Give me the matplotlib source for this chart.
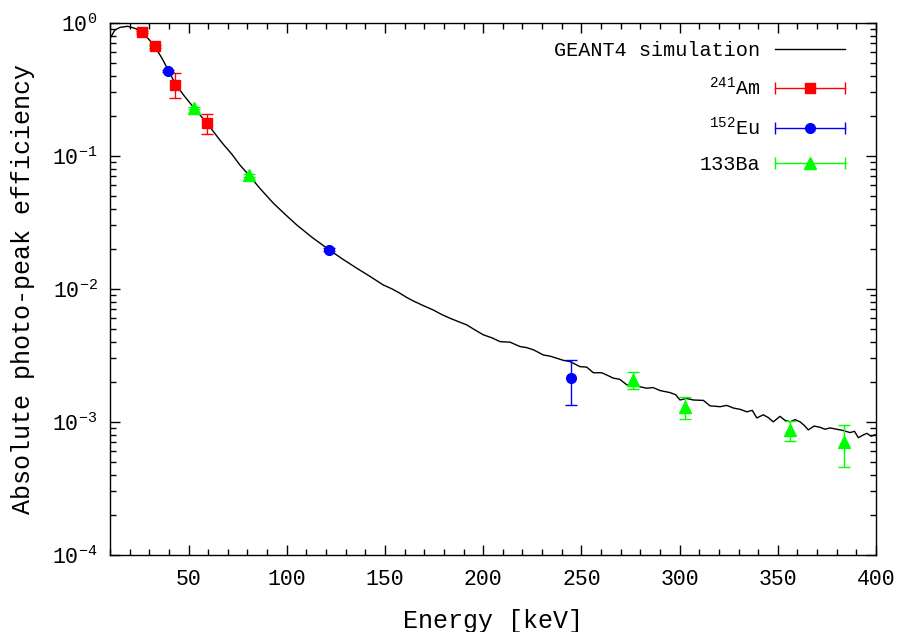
import matplotlib
matplotlib.use("Agg")
import matplotlib.pyplot as plt
from matplotlib.lines import Line2D
from matplotlib.legend_handler import HandlerLine2D, HandlerTuple
from matplotlib.ticker import MultipleLocator, LogLocator, NullFormatter

plt.rcParams['font.family'] = ['Liberation Mono', 'DejaVu Sans Mono']
plt.rcParams['mathtext.fontset'] = 'custom'
plt.rcParams['mathtext.rm'] = 'Liberation Mono'
plt.rcParams['mathtext.it'] = 'Liberation Mono'

# --- GEANT4 simulated curve ---
sim_energy = [10.5, 12.5, 15.1, 19.0, 22.7, 26.3, 29.5, 32.9, 36.5, 39.7,
              43.1, 47.8, 52.9, 59.5, 66.9, 72.0, 76.2, 80.9, 86.5, 93.2,
              99.0, 105.1, 113.0, 121.7, 128.0, 135.6, 142.0, 149.1, 153.5, 157.6,
              161.0, 164.4, 169.5, 174.6, 179.0, 183.1, 187.5, 191.6, 196.0, 200.1,
              204.5, 208.6, 213.7, 218.8, 222.0, 225.6, 230.7, 234.0, 237.4, 240.8,
              244.2, 249.3, 252.7, 256.1, 260.3, 262.9, 266.3, 269.5, 273.1, 278.1,
              283.2, 286.5, 290.0, 295.1, 298.0, 300.2, 303.5, 307.0, 312.1, 315.5,
              320.6, 324.0, 327.4, 331.0, 334.2, 337.0, 339.3, 342.6, 345.0, 347.7,
              351.1, 353.5, 356.2, 358.8, 361.3, 363.5, 365.5, 368.5, 371.5, 374.0,
              376.6, 380.0, 383.4, 386.8, 389.0, 391.0, 393.0, 395.3, 397.5, 399.5]
sim_eff = [0.785, 0.881, 0.923, 0.940, 0.908, 0.851, 0.760, 0.661, 0.540, 0.440,
           0.351, 0.282, 0.228, 0.175, 0.126, 0.103, 0.0851, 0.0711, 0.0565, 0.0440,
           0.0365, 0.0302, 0.0243, 0.0196, 0.0169, 0.0143, 0.0125, 0.0107, 0.0100, 0.00927,
           0.00862, 0.00811, 0.00748, 0.00693, 0.00640, 0.00601, 0.00566, 0.00536, 0.00489, 0.00451,
           0.00428, 0.00401, 0.00397, 0.00368, 0.00362, 0.00348, 0.00318, 0.00312, 0.00301, 0.00290,
           0.00284, 0.00260, 0.00258, 0.00234, 0.00234, 0.00225, 0.00213, 0.00209, 0.00190, 0.00186,
           0.00179, 0.00181, 0.00172, 0.00166, 0.00160, 0.00146, 0.00150, 0.00146, 0.00145, 0.00132,
           0.00130, 0.00133, 0.00127, 0.00124, 0.00119, 0.00122, 0.00107, 0.00113, 0.00108, 0.00100,
           0.00110, 0.00103, 0.00100, 0.00104, 0.00100, 0.00094, 0.00087, 0.00093, 0.00091, 0.00088,
           0.00090, 0.00088, 0.00086, 0.00083, 0.00085, 0.00076, 0.00079, 0.00082, 0.00078, 0.00080]

# --- measured points ---
am_energy = [26.3, 33.0, 43.2, 59.3]
am_eff = [0.851, 0.663, 0.343, 0.176]
am_err = [0.02, 0.02, 0.073, 0.03]

eu_energy = [39.5, 121.7, 244.7]
eu_eff = [0.435, 0.0196, 0.00213]
eu_err = [0.01, 0.0005, 0.0008]

ba_energy = [53.0, 80.9, 276.4, 302.9, 356.0, 383.8]
ba_eff = [0.228, 0.0711, 0.00208, 0.00130, 0.00087, 0.000707]
ba_err = [0.005, 0.002, 0.0003, 0.000245, 0.000148, 0.000248]

fig = plt.figure(figsize=(9.05, 6.32), dpi=100)
ax = fig.add_axes([0.1215, 0.122, 0.8465, 0.842])

ax.plot(sim_energy, sim_eff, color='black', lw=1.0, zorder=2)

ax.errorbar(am_energy, am_eff, yerr=am_err, fmt='s', color='#ff0000', ms=7,
            elinewidth=1.0, capsize=4, capthick=1.0, zorder=3)
ax.errorbar(eu_energy, eu_eff, yerr=eu_err, fmt='o', color='#0000ff', ms=7,
            elinewidth=1.0, capsize=4, capthick=1.0, zorder=3)
ax.errorbar(ba_energy, ba_eff, yerr=ba_err, fmt='^', color='#00ff00', ms=8.5,
            elinewidth=1.0, capsize=4, capthick=1.0, zorder=3)

ax.set_yscale('log')
ax.set_xlim(10, 400)
ax.set_ylim(1e-4, 1)
ax.xaxis.set_major_locator(MultipleLocator(50))
ax.xaxis.set_minor_locator(MultipleLocator(10))
ax.yaxis.set_major_locator(LogLocator(base=10, numticks=10))
ax.yaxis.set_minor_locator(LogLocator(base=10, subs=range(2, 10), numticks=20))
ax.yaxis.set_minor_formatter(NullFormatter())
ax.set_xticks([50, 100, 150, 200, 250, 300, 350, 400])

ax.tick_params(which='both', direction='in', top=True, right=True, labelsize=15.5)
ax.tick_params(which='major', length=7, width=1.0)
ax.tick_params(which='minor', length=4, width=1.0)
ax.tick_params(axis='x', pad=10)
ax.tick_params(axis='y', pad=9)
for s in ax.spines.values():
    s.set_linewidth(1.0)

ax.set_xlabel('Energy [keV]', fontsize=18, labelpad=14)
ax.set_ylabel('Absolute photo-peak efficiency', fontsize=18, labelpad=12)

# legend in gnuplot style: text on the left, horizontal error bar sample on the right
sim_h = Line2D([], [], color='black', lw=1.0)
handles = [sim_h]
handler_map = {}
for col, mk, ms in [('#ff0000', 's', 7), ('#0000ff', 'o', 7), ('#00ff00', '^', 8.5)]:
    bar = Line2D([], [], color=col, lw=1.0, marker='|', ms=8, mew=1.0)
    pt = Line2D([], [], color=col, ls='none', marker=mk, ms=ms)
    handler_map[bar] = HandlerLine2D(numpoints=2, marker_pad=0)
    handler_map[pt] = HandlerLine2D(numpoints=1)
    handles.append((bar, pt))
handler_map[tuple] = HandlerTuple(ndivide=1, pad=0)

labels = ['GEANT4 simulation', '$^{241}$Am', '$^{152}$Eu', '133Ba']
ax.legend(handles, labels, handler_map=handler_map, loc='upper right',
          bbox_to_anchor=(0.96, 0.965), borderaxespad=0, borderpad=0,
          frameon=False, markerfirst=False, fontsize=14.5, handlelength=3.5,
          handletextpad=0.75, labelspacing=0.82)

fig.savefig('out.png', dpi=100)
